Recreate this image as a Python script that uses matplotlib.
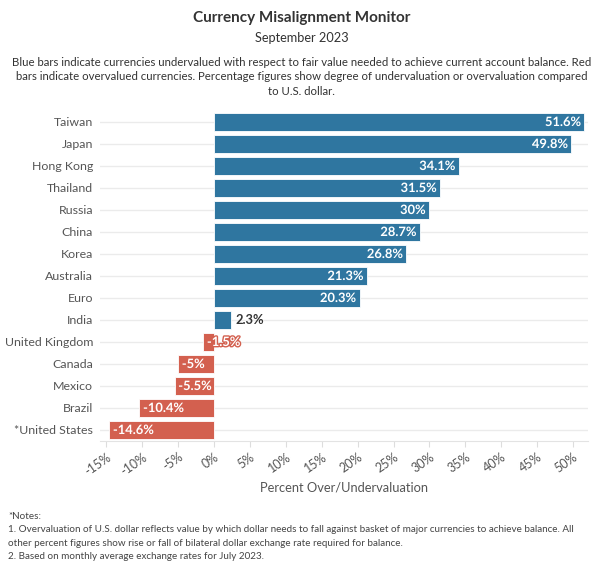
import matplotlib
matplotlib.use("Agg")
import matplotlib.pyplot as plt
import matplotlib.patheffects as pe

plt.rcParams['font.family'] = ['Lato', 'DejaVu Sans']

# data
countries = ["Taiwan", "Japan", "Hong Kong", "Thailand", "Russia", "China", "Korea",
             "Australia", "Euro", "India", "United Kingdom", "Canada", "Mexico",
             "Brazil", "*United States"]
values = [51.6, 49.8, 34.1, 31.5, 30, 28.7, 26.8, 21.3, 20.3, 2.3, -1.5, -5, -5.5, -10.4, -14.6]
labels = ["51.6%", "49.8%", "34.1%", "31.5%", "30%", "28.7%", "26.8%", "21.3%", "20.3%",
          "2.3%", "-1.5%", "-5%", "-5.5%", "-10.4%", "-14.6%"]
ticks = list(range(-15, 55, 5))

blue = "#2f76a0"
red = "#d3604f"
grey = "#555555"

fig = plt.figure(figsize=(6.03, 5.69), dpi=100)
ax = fig.add_axes([100/603, 1-441/569, 488/603, 330/569])

ypos = list(range(len(countries)))
colors = [blue if v >= 0 else red for v in values]
ax.barh(ypos, values, height=0.82, color=colors, edgecolor="#ffffff", linewidth=0.6, zorder=3)

# light gridline behind every row
for y in ypos:
    ax.axhline(y, color="#ebebeb", linewidth=1, zorder=1)

for y, v, lab, c in zip(ypos, values, labels, colors):
    if v >= 0:
        if v > 10:
            ax.text(v - 0.5, y, lab, ha="right", va="center", color="white", fontsize=9.3,
                    fontweight="bold", zorder=4,
                    path_effects=[pe.withStroke(linewidth=1.5, foreground=c)])
        else:
            ax.text(v + 0.7, y, lab, ha="left", va="center", color="#333333", fontsize=9.3,
                    fontweight="bold", zorder=4)
    else:
        ax.text(v + 0.5, y, lab, ha="left", va="center", color="white", fontsize=9.3,
                fontweight="bold", zorder=4,
                path_effects=[pe.withStroke(linewidth=2, foreground=c)])

ax.set_xlim(-15.9, 52.1)
ax.set_ylim(14.5, -0.5)
ax.set_yticks(ypos)
ax.set_yticklabels(countries, fontsize=8.9, color=grey)
ax.tick_params(axis="y", length=0, pad=5)
ax.set_xticks(ticks)
ax.set_xticklabels([f"{t}%" for t in ticks], rotation=35, ha="right",
                   rotation_mode="anchor", fontsize=9, color=grey)
ax.tick_params(axis="x", length=4, color="#dddddd", pad=3)
for s in ["top", "right", "left"]:
    ax.spines[s].set_visible(False)
ax.spines["bottom"].set_color("#e3e3e3")
ax.set_xlabel("Percent Over/Undervaluation", fontsize=9.3, color=grey, labelpad=3)

fig.text(0.5, 1-18/569, "Currency Misalignment Monitor", ha="center", va="center",
         fontsize=11, fontweight="bold", color="#333333")
fig.text(0.5, 1-38/569, "September 2023", ha="center", va="center", fontsize=9.2, color="#333333")
fig.text(0.5, 1-77/569,
         "Blue bars indicate currencies undervalued with respect to fair value needed to achieve current account balance. Red\n"
         "bars indicate overvalued currencies. Percentage figures show degree of undervaluation or overvaluation compared\n"
         "to U.S. dollar.",
         ha="center", va="center", fontsize=8.2, color="#333333", linespacing=1.4)

fig.text(8/603, 1-536.5/569,
         "*Notes:\n"
         "1. Overvaluation of U.S. dollar reflects value by which dollar needs to fall against basket of major currencies to achieve balance. All\n"
         "other percent figures show rise or fall of bilateral dollar exchange rate required for balance.\n"
         "2. Based on monthly average exchange rates for July 2023.",
         ha="left", va="center", fontsize=7.15, color="#444444", linespacing=1.65)

fig.savefig("out.png", dpi=100, facecolor="white")
